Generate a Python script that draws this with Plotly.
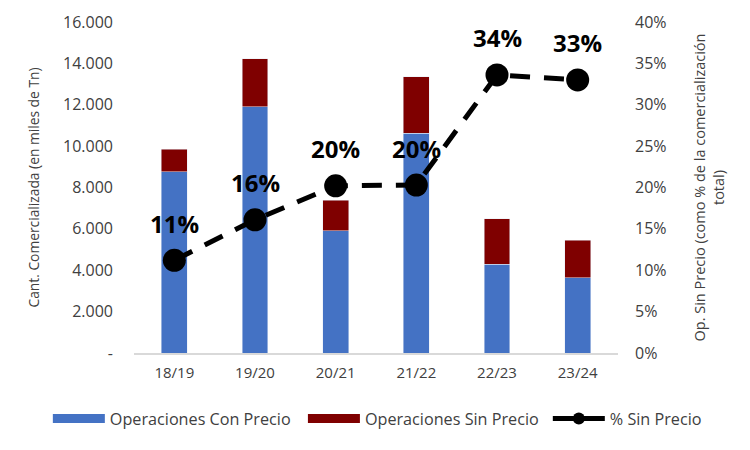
import plotly.graph_objects as go

campanias = ["18/19", "19/20", "20/21", "21/22", "22/23", "23/24"]
con_precio = [8750, 11900, 5900, 10620, 4290, 3630]
sin_precio = [1100, 2320, 1480, 2730, 2200, 1820]
pct_sin_precio = [0.112, 0.161, 0.202, 0.203, 0.336, 0.330]

y_ticks = [0, 2000, 4000, 6000, 8000, 10000, 12000, 14000, 16000]
y_labels = ["-", "2.000", "4.000", "6.000", "8.000", "10.000", "12.000", "14.000", "16.000"]

fuente = "Open Sans"
azul = "#4472C4"
bordo = "#7F0000"

fig = go.Figure()
fig.add_trace(go.Bar(x=campanias, y=con_precio, name="Operaciones Con Precio",
                     marker_color=azul, showlegend=False))
fig.add_trace(go.Bar(x=campanias, y=sin_precio, name="Operaciones Sin Precio",
                     marker_color=bordo, showlegend=False))
fig.add_trace(go.Scatter(x=campanias, y=pct_sin_precio, name="% Sin Precio", yaxis="y2",
                         mode="lines+markers", showlegend=False,
                         line=dict(color="black", width=5, dash="20px,14px"),
                         marker=dict(color="black", size=23)))

# entradas de leyenda con simbolos anchos, como en Excel (una leyenda por item
# para que entren en una sola fila)
fig.add_trace(go.Scatter(x=[None], y=[None], mode="lines", name="Operaciones Con Precio",
                         line=dict(color=azul, width=9), legend="legend"))
fig.add_trace(go.Scatter(x=[None], y=[None], mode="lines", name="Operaciones Sin Precio",
                         line=dict(color=bordo, width=9), legend="legend2"))
fig.add_trace(go.Scatter(x=[None], y=[None], mode="lines+markers", name="% Sin Precio",
                         line=dict(color="black", width=5), marker=dict(color="black", size=12),
                         legend="legend3"))

# etiquetas de porcentaje encima de cada punto
for c, p in zip(campanias, pct_sin_precio):
    fig.add_annotation(x=c, y=p, yref="y2", text="<b>%d%%</b>" % round(p * 100),
                       showarrow=False, yshift=37,
                       font=dict(family=fuente, size=24, color="black"))

ley = dict(orientation="h", xanchor="left", y=-0.199, yanchor="middle",
           font=dict(family=fuente, size=16.2, color="#404040"), itemwidth=52,
           bgcolor="rgba(0,0,0,0)")

# la pagina agrega 8px de margen al body: se compensa en los margenes
fig.update_layout(
    width=750, height=450,
    barmode="stack", bargap=0.68,
    plot_bgcolor="white", paper_bgcolor="white",
    margin=dict(l=126, r=140, t=14, b=105),
    font=dict(family=fuente, size=16, color="#404040"),
    xaxis=dict(showline=True, linecolor="#D9D9D9", linewidth=1.5, automargin=False,
               tickfont=dict(size=15, color="#404040"), ticklabelstandoff=5),
    yaxis=dict(range=[0, 16000], tickvals=y_ticks, ticktext=y_labels, showgrid=False,
               zeroline=False, ticklabelstandoff=20, automargin=False,
               tickfont=dict(size=16, color="#404040"),
               title=dict(text="Cant. Comercializada (en miles de Tn)",
                          font=dict(size=13.8, color="#404040"), standoff=20)),
    yaxis2=dict(range=[0, 0.40], dtick=0.05, tickformat=".0%", overlaying="y",
                side="right", showgrid=False, zeroline=False, ticklabelstandoff=16,
                automargin=False, tickfont=dict(size=16, color="#404040"),
                title=dict(text="Op. Sin Precio (como % de la comercialización<br>total)",
                           font=dict(size=14.5, color="#404040"), standoff=29)),
    legend=dict(ley, x=-0.178),
    legend2=dict(ley, x=0.349),
    legend3=dict(ley, x=0.855),
)

fig.write_html("out.html")
